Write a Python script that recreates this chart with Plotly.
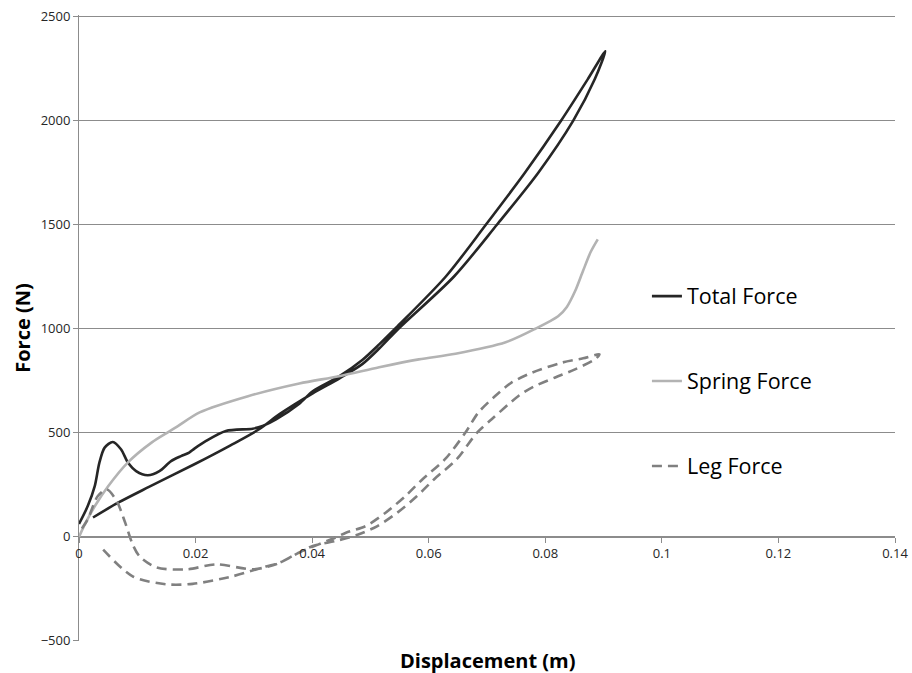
import plotly.graph_objects as go

# ---- data ----
total_x = [0.0000, 0.0015, 0.0027, 0.0035, 0.0044, 0.0058, 0.0072, 0.0084, 0.0098, 0.0118,
           0.0138, 0.0158, 0.0175, 0.0189, 0.0198, 0.0218, 0.0252, 0.0298, 0.0315, 0.0338,
           0.0378, 0.0401, 0.0447, 0.0486, 0.0515, 0.0544, 0.0629, 0.0698, 0.0765, 0.0827,
           0.0873, 0.0903,
           0.0885, 0.0848, 0.0788, 0.0717, 0.0643, 0.0548, 0.0515, 0.0486, 0.0447, 0.0401,
           0.0344, 0.0309, 0.0260, 0.0198, 0.0120, 0.0067, 0.0024]
total_y = [62, 148, 244, 357, 429, 456, 421, 357, 316, 296,
           316, 364, 388, 405, 424, 461, 509, 520, 533, 565,
           640, 700, 772, 850, 925, 1005, 1250, 1500, 1750, 2000,
           2200, 2334,
           2200, 2000, 1750, 1500, 1250, 1000, 905, 830, 762, 690,
           590, 517, 440, 349, 240, 164, 93]

spring_x = [0.0000, 0.0010, 0.0027, 0.0050, 0.0084, 0.0125, 0.0151, 0.0169, 0.0207, 0.0290,
            0.0378, 0.0446, 0.0515, 0.0583, 0.0646, 0.0732, 0.0783, 0.0822, 0.0837, 0.0851,
            0.0865, 0.0878, 0.0890]
spring_y = [0, 60, 147, 243, 358, 454, 500, 531, 598, 676,
            737, 772, 815, 853, 880, 935, 1000, 1060, 1105, 1180,
            1280, 1370, 1430]

leg_x = [0.0005, 0.0015, 0.0032, 0.0048, 0.0065, 0.0079, 0.0092, 0.0104, 0.0133, 0.0185,
         0.0236, 0.0298, 0.0338, 0.0378, 0.0441, 0.0458, 0.0492, 0.0526, 0.0560, 0.0589,
         0.0628, 0.0663, 0.0685, 0.0714, 0.0742, 0.0777, 0.0828, 0.0865, 0.0893,
         0.0885, 0.0851, 0.0817, 0.0780, 0.0754, 0.0708, 0.0683, 0.0648, 0.0609, 0.0580,
         0.0546, 0.0512, 0.0478, 0.0440, 0.0401, 0.0344, 0.0321, 0.0263, 0.0195, 0.0150,
         0.0092, 0.0036]
leg_y = [40, 84, 195, 228, 170, 70, -36, -94, -147, -156,
         -132, -156, -132, -75, -2, 20, 52, 116, 196, 276,
         373, 501, 597, 677, 741, 789, 837, 858, 877,
         853, 805, 766, 722, 677, 565, 501, 373, 276, 196,
         116, 52, 10, -20, -44, -124, -142, -190, -226, -228,
         -190, -45]

x_ticks = [0, 0.02, 0.04, 0.06, 0.08, 0.1, 0.12, 0.14]
x_tick_labels = ["0", "0.02", "0.04", "0.06", "0.08", "0.1", "0.12", "0.14"]
y_ticks = [-500, 0, 500, 1000, 1500, 2000, 2500]

FONT = "Open Sans"
GRID = "#8c8c8c"

# y range: a hair of headroom so the top (2500) gridline is not clipped away
y_min, y_max = -500.5, 2508
x_axis_pos = (0 - y_min) / (y_max - y_min)   # x axis crosses at y = 0

fig = go.Figure()
fig.add_trace(go.Scatter(x=total_x, y=total_y, mode="lines", name="Total Force",
                         legendgroup="a",
                         line=dict(color="#262626", width=2.6, shape="spline", smoothing=0.8)))
fig.add_trace(go.Scatter(x=spring_x, y=spring_y, mode="lines", name="Spring Force",
                         legendgroup="b",
                         line=dict(color="#b3b3b3", width=2.6, shape="spline", smoothing=0.8)))
fig.add_trace(go.Scatter(x=leg_x, y=leg_y, mode="lines", name="Leg Force",
                         legendgroup="c",
                         line=dict(color="#808080", width=2.6, shape="spline", smoothing=0.8,
                                   dash="10px,6px")))

fig.update_layout(
    width=912, height=673,
    margin=dict(l=79, r=17, t=15, b=32),
    paper_bgcolor="white", plot_bgcolor="white",
    font=dict(family=FONT, color="#262626", size=13),
    showlegend=True,
    legend=dict(x=0.696, y=0.5837, xanchor="left", yanchor="top",
                font=dict(family=FONT, size=21.5, color="#000000"),
                tracegroupgap=54, bgcolor="rgba(0,0,0,0)", borderwidth=0),
    xaxis=dict(range=[0, 0.14], tickvals=x_ticks, ticktext=x_tick_labels,
               anchor="free", position=x_axis_pos, showgrid=False, zeroline=False,
               showline=True, linecolor=GRID, linewidth=1, automargin=False,
               ticks="outside", ticklen=5, tickcolor=GRID, ticklabeloverflow="allow",
               tickfont=dict(family=FONT, size=13, color="#262626")),
    yaxis=dict(range=[y_min, y_max], tickvals=y_ticks, domain=[0, 1],
               showgrid=True, gridcolor=GRID, gridwidth=1, zeroline=False,
               showline=True, linecolor=GRID, linewidth=1, automargin=False,
               ticks="outside", ticklen=5, tickcolor=GRID, ticklabeloverflow="allow",
               tickfont=dict(family=FONT, size=13, color="#262626"),
               title=dict(text="<b>Force (N)</b>", standoff=4,
                          font=dict(family=FONT, size=20, color="#000000"))),
    annotations=[dict(text="<b>Displacement (m)</b>", xref="paper", yref="paper",
                      x=0.5, y=-0.0304, xanchor="center", yanchor="middle",
                      showarrow=False,
                      font=dict(family=FONT, size=20, color="#000000"))],
)

fig.write_html("out.html", config={"displayModeBar": False},
               post_script="document.body.style.margin='0';")
